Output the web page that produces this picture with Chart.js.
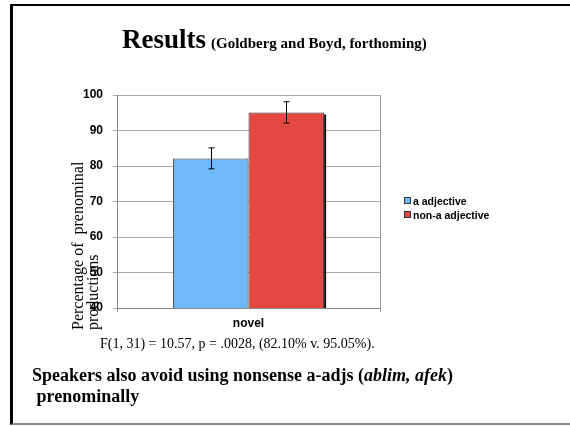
<!DOCTYPE html>
<html>
<head>
<meta charset="utf-8">
<script src="https://cdn.jsdelivr.net/npm/chart.js@4/dist/chart.umd.min.js"></script>
<style>
    html, body { margin: 0; padding: 0; background: #fff; }
    body { width: 570px; height: 426px; position: relative; overflow: hidden; }
    #frame {
        position: absolute; left: 10px; top: 4px; width: 600px; height: 417px;
        border-left: 3px solid #000; border-top: 2px solid #000; border-bottom: 2px solid #888;
    }
    #chartBox { position: absolute; left: 0; top: 0; width: 570px; height: 426px; }
    .serif { position: absolute; font-family: "Liberation Serif", "Times New Roman", serif; color: #000; white-space: nowrap; }
    #title { left: 122px; top: 24px; font-size: 27px; font-weight: bold; }
    #title small { font-size: 15px; margin-left: 5px; }
    #yTitle {
        left: 0; top: 0; font-size: 16px; line-height: 15px;
        transform-origin: 0 0; transform: translate(70px, 330px) rotate(-90deg);
    }
    #stats { left: 100px; top: 336px; font-size: 14px; }
    #note { left: 32px; top: 365px; font-size: 18px; font-weight: bold; line-height: 21px; }
    #legend { position: absolute; left: 404px; top: 194px; font-family: "Liberation Sans", Arial, sans-serif;
        font-size: 10.5px; font-weight: bold; }
    #legend div { height: 14px; line-height: 14px; white-space: nowrap; }
    #legend span { display: inline-block; width: 5px; height: 5px; border: 1px solid #333; margin-right: 2px; vertical-align: 1px; }
</style>
</head>
<body>
<div id="frame"></div>
<div id="chartBox"><canvas id="resultsChart" width="570" height="426"></canvas></div>
<div class="serif" id="title">Results<small>(Goldberg and Boyd, forthoming)</small></div>
<div class="serif" id="yTitle">Percentage of&nbsp; prenominal<br>productions</div>
<div class="serif" id="stats">F(1, 31) = 10.57, p = .0028, (82.10% v. 95.05%).</div>
<div class="serif" id="note">Speakers also avoid using nonsense a-adjs (<i>ablim, afek</i>)<br>&nbsp;prenominally</div>
<div id="legend"></div>

<script>
const categories = ["novel"];
const seriesLabels = ["a adjective", "non-a adjective"];
const seriesValues = [[82.1], [95.05]];
const errLow = [[79.2], [92.1]];
const errHigh = [[85.1], [98.1]];
const seriesColors = ["#6db9f9", "#e34842"];
const yTicks = [40, 50, 60, 70, 80, 90, 100];

// error bars drawn on top of the bars using the chart's own scales
const errorBars = {
    id: "errorBars",
    afterDatasetsDraw(chart) {
        const ctx = chart.ctx;
        const y = chart.scales.y;
        ctx.save();
        ctx.strokeStyle = "#000";
        ctx.lineWidth = 1;
        chart.data.datasets.forEach((ds, i) => {
            const meta = chart.getDatasetMeta(i);
            meta.data.forEach((bar, j) => {
                const x = Math.round(bar.x) + 0.5;
                const lo = y.getPixelForValue(errLow[i][j]);
                const hi = y.getPixelForValue(errHigh[i][j]);
                ctx.beginPath();
                ctx.moveTo(x, lo); ctx.lineTo(x, hi);
                ctx.moveTo(x - 3, lo); ctx.lineTo(x + 3, lo);
                ctx.moveTo(x - 3, hi); ctx.lineTo(x + 3, hi);
                ctx.stroke();
            });
        });
        ctx.restore();
    }
};

// dark shadow on the right side of the last bar
const barShadow = {
    id: "barShadow",
    beforeDatasetDraw(chart, args) {
        if (args.index !== chart.data.datasets.length - 1) return;
        const ctx = chart.ctx;
        const bottom = chart.chartArea.bottom;
        args.meta.data.forEach(bar => {
            ctx.save();
            ctx.fillStyle = "#111";
            ctx.fillRect(bar.x + bar.width / 2, bar.y + 2, 2, bottom - bar.y - 2);
            ctx.restore();
        });
    }
};

const chartCanvas = document.getElementById("resultsChart").getContext("2d");
new Chart(chartCanvas, {
    type: "bar",
    data: {
        labels: categories,
        datasets: seriesLabels.map((label, i) => ({
            label: label,
            data: seriesValues[i],
            backgroundColor: seriesColors[i],
            borderColor: "#333",
            borderWidth: 1,
            barPercentage: 1,
            categoryPercentage: 0.575
        }))
    },
    options: {
        responsive: false,
        animation: false,
        layout: { padding: { left: 60, top: 95, right: 190, bottom: 88 } },
        scales: {
            x: {
                afterFit: s => { s.height = 30; },
                grid: { color: "#999", offset: true, tickLength: 4 },
                border: { color: "#888" },
                ticks: { color: "#000", padding: 4, font: { family: "Liberation Sans", size: 12, weight: "bold" } }
            },
            y: {
                min: 40,
                max: 100,
                afterFit: s => { s.width = 57; },
                afterBuildTicks: s => { s.ticks = yTicks.map(v => ({ value: v })); },
                grid: { color: "#aaa", tickLength: 4 },
                border: { color: "#888" },
                ticks: { color: "#000", padding: 10, font: { family: "Liberation Sans", size: 12, weight: "bold" } }
            }
        },
        plugins: {
            legend: { display: false },
            tooltip: { enabled: false }
        }
    },
    plugins: [barShadow, errorBars]
});

const legend = document.getElementById("legend");
seriesLabels.forEach((label, i) => {
    const row = document.createElement("div");
    row.innerHTML = `<span style="background:${seriesColors[i]}"></span>${label}`;
    legend.appendChild(row);
});
</script>
</body>
</html>
